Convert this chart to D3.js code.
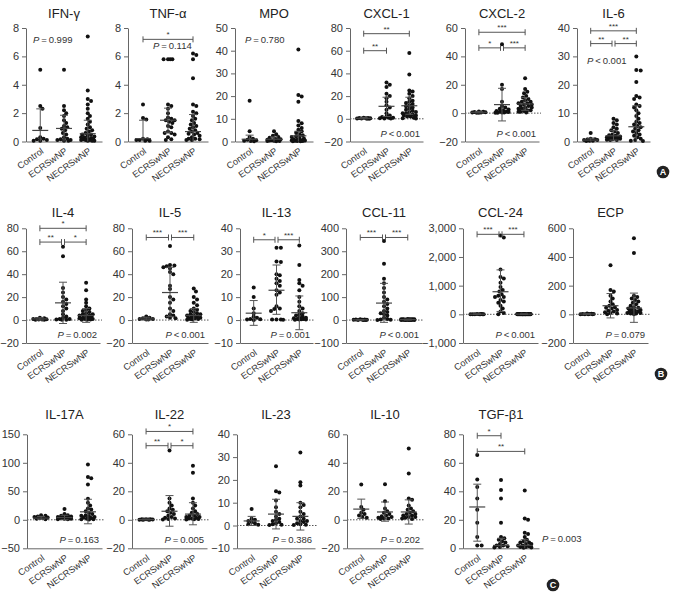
<!DOCTYPE html>
<html><head><meta charset="utf-8">
<script src="https://cdn.jsdelivr.net/npm/d3@7"></script>
<style>
body{margin:0;background:#fff;}
svg{font-family:"Liberation Sans",Arial,Helvetica,sans-serif;}
</style></head>
<body><svg id="c" width="676" height="595"></svg>
<script>
// ---------------- DATA ----------------
const groups = ["Control", "ECRSwNP", "NECRSwNP"];
const titles = ["IFN-γ","TNF-α","MPO","CXCL-1","CXCL-2","IL-6",
                "IL-4","IL-5","IL-13","CCL-11","CCL-24","ECP",
                "IL-17A","IL-22","IL-23","IL-10","TGF-β1"];
const yDomains = [[0,8],[0,8],[0,50],[-20,80],[-20,60],[0,40],
                  [-20,80],[-20,80],[-10,40],[-100,400],[-1000,3000],[-200,600],
                  [-50,150],[-20,60],[-10,40],[-20,60],[0,80]];
const yTicks = [[0,2,4,6,8],[0,2,4,6,8],[0,10,20,30,40,50],[-20,0,20,40,60,80],[-20,0,20,40,60],[0,10,20,30,40],
                [-20,0,20,40,60,80],[-20,0,20,40,60,80],[-10,0,10,20,30,40],[-100,0,100,200,300,400],[-1000,0,1000,2000,3000],[-200,0,200,400,600],
                [-50,0,50,100,150],[-20,0,20,40,60],[-10,0,10,20,30,40],[-20,0,20,40,60],[0,20,40,60,80]];

const controlValues = [
  [5.05,2.5,2.3,0.95,0.3,0.2,0.15,0.1,0.05,0.05],
  [2.6,1.65,1.55,0.2,0.15,0.1,0.1,0.05,0.05],
  [18,4.5,2,1.2,0.8,0.5,0.3,0.2,0.1],
  [1,0.8,0.5,0.4,0.3,0.2,0.1,0,0.6],
  [0.5,1,0.8,0.3,0.5,1.2,0.6,0.2],
  [3,1,0.8,0.5,0.3,0.2,0.5,0.7,0.3],
  [0.5,1,1.5,2,1,0.5,0.3,0.8,0.2],
  [0.5,1,2,1.5,3,1,0.5],
  [14.2,10,5,3,1.5,1,0.5,0.2,0,0.3],
  [0,1,2,0,1,3,0,1,2],
  [0,5,10,0,5,0,10,5,0],
  [0,2,5,1,3,0,2,1,4],
  [8,7,6,5,4,3,3,2,1],
  [0.2,0.3,0.1,0.2,0.4,0.1,0.3,0.2,0.1],
  [7.2,3,2.5,2,1.5,1,0.5,0.3],
  [24.8,9,7,5,4,3,2,1.5],
  [65.5,48.2,43,35,27,18,8,2,2]
];
const ecrsValues = [
  [5.05,2.5,2.2,2.0,1.8,1.5,1.3,1.1,1.0,0.9,0.8,0.6,0.5,0.3,0.2,0.15,0.1,0.05,0.05,0.1],
  [5.8,5.8,5.8,5.8,2.6,2.5,2.3,2.0,1.7,1.6,1.5,1.5,1.4,1.3,1.1,1.0,0.7,0.6,0.6,0.5,0.3,0.15,0.1],
  [4.5,3.2,2.5,2,1.6,1.2,1,0.8,0.6,0.5,0.3,0.2,0.1,0.2,0.4],
  [32,30,28,22,20,18,15,12,10,8,5,3,2,1.5,1,0.5,0.3,0.2,1],
  [48.5,20,17,8,5,4,3,2.5,2,1.5,1,0.8,0.5,0.3,0.2,0.5,1],
  [8,7.5,6.5,6,5,4.5,4,3.5,3,2.5,2.2,2,1.8,1.5,1.3,1.1,1,0.8,0.6,0.5,0.5,1,1.5],
  [64,55.6,28,24,20,18,16,14,12,10,8,5,3,2,1,0.5,0.3,0.2,1],
  [64.5,48,47.5,47,46,45,42,40,30,27,20,18,15,10,8,5,4,3,2,1.5],
  [31.5,31.5,25.5,25.3,20,19.5,18,17,16,15,13,12,11,6,5,4.8,4,0.2,0.2,0.2,0.1],
  [345,245,180,160,140,120,100,90,80,70,60,50,40,35,30,25,20,10,5,2,0,1],
  [2750,2680,1565,1300,1250,1100,950,850,800,700,650,600,600,500,450,400,300,200,100,50,0],
  [343,170,160,130,110,90,70,60,50,45,40,30,25,20,15,10,5,0],
  [19,10,8,7,6,5,5,4,4,3,3,2,2,1,1],
  [48.6,15,12,10,8,7,6,5,4,3,2,1.5,1,0.5,0.2],
  [26,15,14.5,11,8,6,5,4,3,2.5,2,1.5,1,0.5,0.3,0.2],
  [25,13,8,6,5,4,3,2.5,2,1.5,1,1,0.5],
  [48,41,35,18,8,7,6,5,4,3,2,2,1.5,1,0.5]
];
const necrsValues = [
  [7.4,3.6,3.0,2.85,2.6,2.3,2.0,1.8,1.6,1.4,1.2,1.0,0.9,0.8,0.7,0.6,0.5,0.5,0.4,0.35,0.3,0.25,0.2,0.15,0.1,0.1,0.05,0.05,0.05,0.1,0.2,0.3],
  [6.2,6.1,5.8,4.45,2.6,2.5,2.1,2.0,1.8,1.6,1.5,1.3,1.2,1.1,1.0,0.9,0.8,0.7,0.6,0.55,0.5,0.4,0.3,0.2,0.15,0.1,0.1,0.2],
  [40.5,20.5,19.8,17.5,9,8,7,6,5.2,4.5,3.8,3.2,2.8,2.3,2,1.6,1.3,1,0.8,0.6,0.5,0.4,0.3,0.2,0.1,0.1,0.2,0.5],
  [58,39,25,24,22,20,18,16,15,14,13,12,11,10,9,8,7,6,5,4,3,2,1,0.5,0.3,2,3,4,5,6],
  [24.5,17,15,14,12,11,10,9,8,8,7,7,6,6,5,5,4,4,3,3,2,2,1.5,1,1,0.5],
  [30,25.2,25,21,16,15.5,15,13,12.5,12,11,10,9,8,7,6.5,6,5.5,5,4.5,4,3.5,3,2.5,2,1.5,1,0.5,0.3,0.2],
  [32.5,26,18,15,12,10,9,8,7,6,5,5,4,4,3,3,2,2,1.5,1,1,0.5,0.3,0.2],
  [27.5,25,20,18,15,13,10,9,8,7,6,5,5,4,4,3,3,2,2,1.5,1,1,0.5,0.3],
  [32.5,24,17.5,16,15,13,10,8,6,5,4,3,2.5,2,1.5,1,0.8,0.5,0.3,0.2,0.1,0.2,0.5,1],
  [0,1,2,3,5,2,1,0,4,3,2,1,0,1,2,3,1,0,2,1,0,3],
  [0,5,10,0,5,0,10,5,0,5,10,0,5,0,10,5,0,5,0,10],
  [531,427,130,120,110,100,90,80,70,60,50,45,40,35,30,25,20,15,10,5,0,5,10,20],
  [97,75,73,62,37,30,25,20,18,15,12,10,8,7,6,5,4,3,2,1,0.5,1],
  [38,33,15,12,10,8,6,5,4,3,3,2,2,1.5,1,0.5,0.3,0.2,1],
  [32,19,17.5,10,9,8,6,5,4,3,3,2,2,1.5,1,0.5,0.3,0.2],
  [50,32.5,15,14,10,8,7,6,5,4,4,3,3,2,2,1.5,1,0.5],
  [40.5,21,20,11,10,8,6,5,4,4,3,3,2,2,1.5,1,1,0.5,0.3]
];
// mean and error-bar ends per group [Control, ECRSwNP, NECRSwNP]
const groupMeans = [[0.78,0.92,0.55],[0.2,1.5,0.7],[1,1,2.5],[0.4,11,11.5],[0.6,6,6.5],[0.5,2,5.2],
  [1,15,4],[1,24,4],[3,13,3.2],[1,74,2],[5,788,5],[2,60,44],
  [3,4,14],[0.2,6,4],[2,5,4],[7.5,5.5,5.5],[29,2,2]];
const errLow = [[0,0,0],[0,0.65,0],[0,0,0],[0,2,4],[0.2,-5.5,2],[0,0.5,0],
  [0,-3,-2],[0,3,-2],[-2.3,2.5,-4.2],[0,-10,0],[0,100,0],[0,-25,-56],
  [1,0,-7],[0,-4.5,-3.5],[0,-1.5,-2],[1,-1,-3],[5,0,0]];
const errHigh = [[2.3,1.85,1.5],[1.5,2.35,1.9],[2.8,2,4.5],[1,19,19],[1,17.5,11],[1.2,3.8,12.6],
  [2,33,10],[2.5,46,10],[8.5,24,10.5],[2,160,4],[10,1550,10],[4,145,148],
  [6,8,36],[0.5,17,12],[4,11.5,10],[14.5,12.5,14],[45,7,6]];
const pLabels = ["=0.999","=0.114","=0.780","<0.001","<0.001","<0.001",
                 "=0.002","<0.001","=0.001","<0.001","<0.001","=0.079",
                 "=0.163","=0.005","=0.386","=0.202","=0.003"];
// significance brackets: [fromGroup, toGroup, level (y value), stars]
const brackets = [
  [], [[0,2,7.2,"*"]], [],
  [[0,2,75,"**"],[0,1,60,"**"]],
  [[0,2,57,"***"],[0,1,46,"*"],[1,2,46,"***"]],
  [[0,2,39,"***"],[0,1,34.5,"**"],[1,2,34.5,"**"]],
  [[0,2,80,"*"],[0,1,68,"**"],[1,2,68,"*"]],
  [[0,1,72,"***"],[1,2,72,"***"]],
  [[0,1,35,"*"],[1,2,35,"***"]],
  [[0,1,360,"***"],[1,2,360,"***"]],
  [[0,1,2790,"***"],[1,2,2790,"***"]],
  [],
  [],
  [[0,2,62,"*"],[0,1,52,"**"],[1,2,52,"*"]],
  [], [],
  [[0,1,79,"*"],[0,2,68,"**"]]
];
const panelLetters = ["A","B","C"];

// ---------------- LAYOUT ----------------
const rowTop = [28, 228.3, 434.3];
const rowBot = [141.5, 343, 548.3];
const titleY = [17.5, 216.5, 418.5];
const panelRow = [0,0,0,0,0,0, 1,1,1,1,1,1, 2,2,2,2,2];
const panelX = [26,128,235,350,465,577, 26,132,240,346,463,573, 27,132,237,347,463];
const panelW = [76,80,78,73,74,73, 74,76,73,76,75,75, 75,75,78,76,76];
// p-value placement: null = bottom-right inside plot, otherwise [x, y, anchor] absolute
const pPlace = [[33,43,"start"],[153,49,"start"],[245,43,"start"],null,null,[587,64,"start"],
  null,null,null,null,null,null, null,null,null,null,[542,542,"start"]];
const letterPos = [[663,172],[661,374],[553,585]];

// ---------------- DRAW ----------------
const svg = d3.select("#c");
const fmt = d3.format(",");
const R = 2;

function swarm(vals, y, cx, maxOff) {
  const pts = vals.map(v => ({v, py: y(v)})).sort((a,b) => a.py - b.py);
  const placed = [];
  const step = 1.1;
  const cands = [0];
  for (let k = 1; k * step <= maxOff; k++) { cands.push(k*step, -k*step); }
  pts.forEach(p => {
    let best = null, bestD = -1;
    for (const o of cands) {
      let md = Infinity;
      for (const q of placed) {
        const d = Math.hypot(q.px - (cx+o), q.py - p.py);
        if (d < md) md = d;
      }
      if (md >= 2*R*0.85) { best = o; bestD = md; break; }
      if (md > bestD) { bestD = md; best = o; }
    }
    p.px = cx + best;
    placed.push(p);
  });
  return placed;
}

titles.forEach((t, i) => {
  const r = panelRow[i];
  const x0 = panelX[i], w = panelW[i];
  const y = d3.scaleLinear().domain(yDomains[i]).range([rowBot[r], rowTop[r]]);
  const x = d3.scalePoint().domain(groups).range([x0, x0 + w]).padding(0.6);
  const g = svg.append("g");

  // title
  g.append("text").attr("x", x0 + w/2).attr("y", titleY[r]).attr("text-anchor","middle")
    .attr("font-size", 13).attr("fill","#222").text(t);

  // zero dotted line
  if (yDomains[i][0] < 0) {
    g.append("line").attr("x1", x0).attr("x2", x0 + w + 2).attr("y1", y(0)).attr("y2", y(0))
      .attr("stroke","#555").attr("stroke-width",1).attr("stroke-dasharray","1.5,1.5");
  }

  // y axis
  const ya = d3.axisLeft(y).tickValues(yTicks[i]).tickSize(4).tickSizeOuter(0).tickPadding(3).tickFormat(fmt);
  const yg = g.append("g").attr("transform", `translate(${x0},0)`).call(ya);
  yg.select(".domain").attr("stroke","#666");
  yg.selectAll(".tick line").attr("stroke","#666");
  yg.selectAll(".tick text").attr("font-size", 11).attr("fill","#333").attr("font-family","Liberation Sans, Arial, sans-serif");

  // x axis
  const xa = d3.axisBottom(x).tickSize(0).tickSizeOuter(0).tickFormat("");
  const xg = g.append("g").attr("transform", `translate(0,${rowBot[r]})`).call(xa);
  xg.select(".domain").attr("stroke","#666");
  groups.forEach(gr => {
    g.append("text").attr("transform", `translate(${x(gr)+4},${rowBot[r]+11}) rotate(-35)`)
      .attr("text-anchor","end").attr("font-size", 9.2).attr("fill","#333").text(gr);
  });

  // points
  const series = [controlValues[i], ecrsValues[i], necrsValues[i]];
  series.forEach((vals, gi) => {
    const cx = x(groups[gi]);
    const pts = swarm(vals, y, cx, 7.5);
    g.selectAll(null).data(pts).enter().append("circle")
      .attr("cx", d => d.px).attr("cy", d => d.py).attr("r", R).attr("fill","#111");
  });

  // mean & error bars
  series.forEach((vals, gi) => {
    const cx = x(groups[gi]);
    const lo = Math.max(errLow[i][gi], yDomains[i][0]);
    const hi = errHigh[i][gi];
    const eg = g.append("g").attr("stroke","#555").attr("stroke-width",1);
    eg.append("line").attr("x1",cx).attr("x2",cx).attr("y1",y(lo)).attr("y2",y(hi));
    eg.append("line").attr("x1",cx-4).attr("x2",cx+4).attr("y1",y(hi)).attr("y2",y(hi));
    if (errLow[i][gi] > yDomains[i][0])
      eg.append("line").attr("x1",cx-4).attr("x2",cx+4).attr("y1",y(lo)).attr("y2",y(lo));
    eg.append("line").attr("x1",cx-8).attr("x2",cx+8).attr("y1",y(groupMeans[i][gi])).attr("y2",y(groupMeans[i][gi]))
      .attr("stroke-width",1.2).attr("stroke","#444");
  });

  // brackets
  brackets[i].forEach(b => {
    const [a, c, lvl, stars] = b;
    let xa1 = x(groups[a]), xa2 = x(groups[c]);
    const meets = brackets[i].some(o => o !== b && o[2] === lvl);
    if (meets) { if (a === 1) xa1 += 1.5; if (c === 1) xa2 -= 1.5; }
    const yy = y(lvl);
    const bg = g.append("g").attr("stroke","#555").attr("stroke-width",1);
    bg.append("line").attr("x1",xa1).attr("x2",xa2).attr("y1",yy).attr("y2",yy);
    bg.append("line").attr("x1",xa1).attr("x2",xa1).attr("y1",yy-3).attr("y2",yy+3);
    bg.append("line").attr("x1",xa2).attr("x2",xa2).attr("y1",yy-3).attr("y2",yy+3);
    g.append("text").attr("x",(xa1+xa2)/2).attr("y",yy-2).attr("text-anchor","middle")
      .attr("font-size",8).attr("fill","#333").text(stars);
  });

  // p-value
  const pp = pPlace[i];
  const pt = g.append("text").attr("font-size", 9.5).attr("fill","#333");
  if (pp) { pt.attr("x", pp[0]).attr("y", pp[1]).attr("text-anchor", pp[2]); }
  else { pt.attr("x", x0 + w - 3).attr("y", rowBot[r] - 5).attr("text-anchor","end"); }
  pt.append("tspan").attr("font-style","italic").text("P");
  pt.append("tspan").text(pLabels[i].replace(/^([=<])/, "\u2009$1\u2009"));
});

// panel letters
panelLetters.forEach((L, k) => {
  const [cx, cy] = letterPos[k];
  svg.append("circle").attr("cx",cx).attr("cy",cy).attr("r",6.3).attr("fill","#222");
  svg.append("text").attr("x",cx).attr("y",cy+3.3).attr("text-anchor","middle")
    .attr("font-size",9).attr("font-weight","bold").attr("fill","#fff").text(L);
});
</script>
</body></html>
